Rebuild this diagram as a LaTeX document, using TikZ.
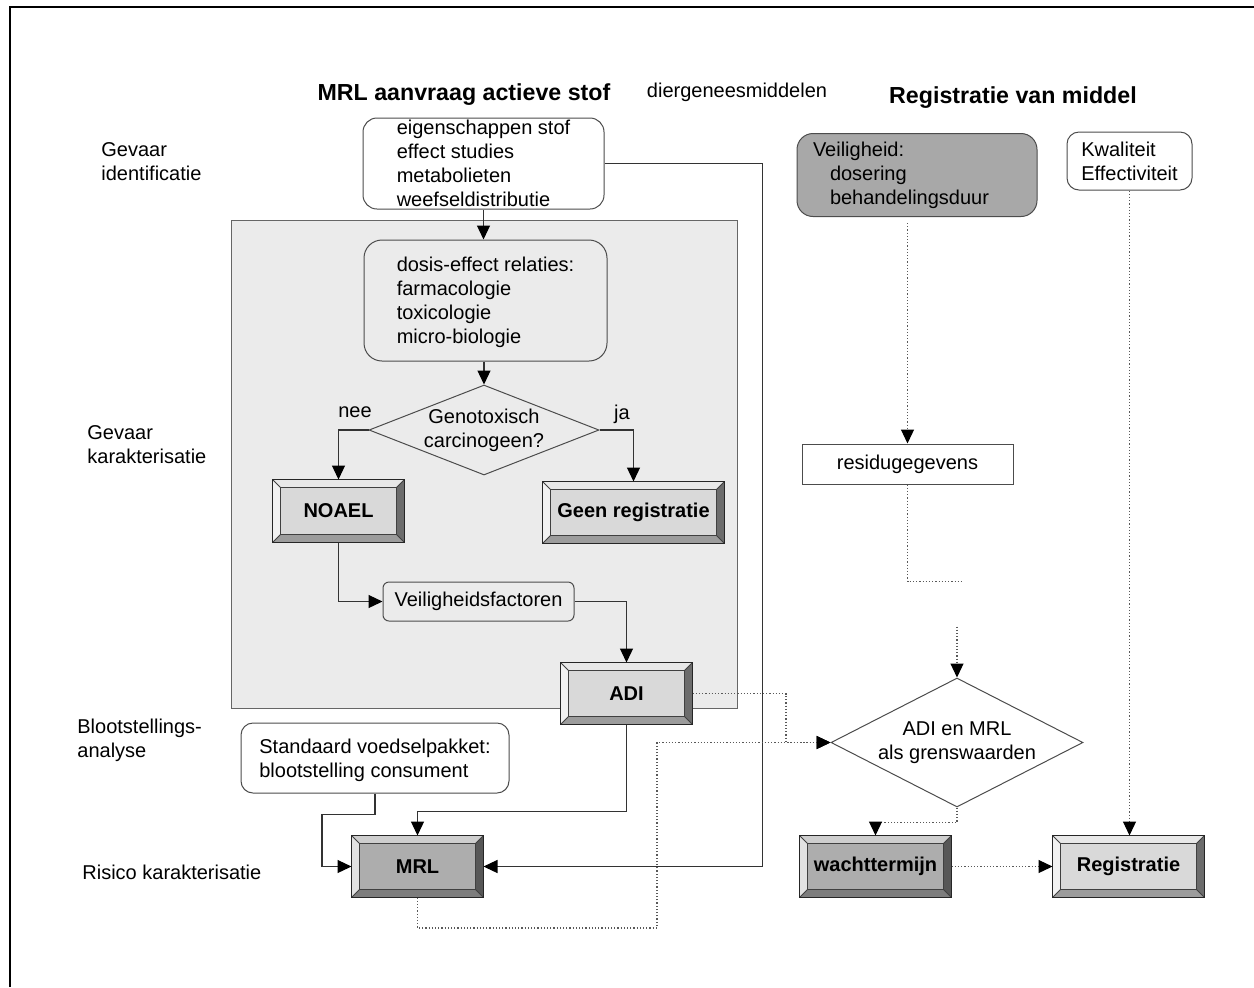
\documentclass[tikz,border=0pt]{standalone}
\usepackage{fontspec}
\setmainfont{Liberation Sans}
\usetikzlibrary{arrows.meta,shapes.geometric}
\colorlet{panelgray}{black!8}
\colorlet{faceL}{black!15}
\colorlet{faceD}{black!32}
\colorlet{faceV}{black!34}
\begin{document}
\begin{tikzpicture}[x=0.5pt, y=-0.5pt,
  every node/.style={font=\fontsize{10}{12}\selectfont, inner sep=0pt},
  >={Triangle[length=7pt,width=6.5pt,color=black]},
  conn/.style={draw=black!80, line width=0.6pt},
  dotconn/.style={draw=black!65, line width=0.6pt, densely dotted},
  rbox/.style={draw=black!70, line width=0.5pt, rounded corners=#1, align=left},
  bevel/.style={draw=black!85, line width=0.5pt, fill=#1, font=\fontsize{10}{12}\selectfont\bfseries},
  dia/.style={draw=black!70, line width=0.5pt, diamond, align=center},
  title/.style={font=\fontsize{11.6}{14}\selectfont\bfseries}]
  \useasboundingbox (0,0) rectangle (1254,987);
  \draw[line width=1pt] (10,987) -- (10,7) -- (1254,7);

  % grey panel behind the hazard part
  \draw[fill=panelgray, draw=black!60, line width=0.5pt] (231,220) rectangle (737,708);

  % titles and row labels
  \node[title] (tmrl) at (464,95) {MRL aanvraag actieve stof};
  \node (tdier) at (737,92) {diergeneesmiddelen};
  \node[title] (treg) at (1013,98) {Registratie van middel};
  \node[anchor=west, align=left] (lid) at (101,162) {Gevaar\\identificatie};
  \node[anchor=west, align=left] (lkar) at (87,445) {Gevaar\\karakterisatie};
  \node[anchor=west, align=left] (lbloot) at (77,740) {Blootstellings-\\analyse};
  \node[anchor=west] (lrisico) at (82,872) {Risico karakterisatie};

  % left column
  \node[rbox=7pt, text depth=0pt, fill=white, minimum width=120.5pt, minimum height=45.5pt] (eig) at (483.5,163.5)
    {eigenschappen stof\\effect studies\\metabolieten\\weefseldistributie};
  \node[rbox=9pt, text depth=0pt, fill=panelgray, minimum width=121.5pt, minimum height=60.5pt] (dosis) at (485.5,300.5)
    {dosis-effect relaties:\\farmacologie\\toxicologie\\micro-biologie};
  \node[dia, fill=panelgray, aspect=2.556, minimum width=115pt, minimum height=45pt] (gen) at (484,430)
    {Genotoxisch\\carcinogeen?};
  \node (nee) at (355,412) {nee};
  \node (ja) at (622,414) {ja};
  \node[bevel=faceL, minimum width=65.5pt, minimum height=31pt] (noael) at (338.5,511) {NOAEL};
  \node[bevel=faceL, minimum width=90.5pt, minimum height=30.5pt] (geen) at (633.5,512.5) {Geen registratie};
  \node[rbox=3pt, fill=panelgray, minimum width=95.5pt, minimum height=19.5pt] (veilf) at (478.5,601.5) {Veiligheidsfactoren};
  \node[bevel=faceL, minimum width=65.5pt, minimum height=30.5pt] (adi) at (626.5,693.5) {ADI};
  \node[rbox=6pt, text depth=0pt, fill=white, minimum width=134pt, minimum height=35pt] (stand) at (375,758)
    {Standaard voedselpakket:\\blootstelling consument};
  \node[bevel=faceD, minimum width=65.5pt, minimum height=30.5pt] (mrl) at (417.5,866.5) {MRL};

  % right column
  \node[rbox=8pt, fill=faceV, text width=104pt, inner xsep=8pt, minimum height=41.5pt] (veil) at (917,175)
    {Veiligheid:\\\hspace*{8.5pt}dosering\\\hspace*{8.5pt}behandelingsduur};
  \node[rbox=6pt, text depth=0pt, fill=white, minimum width=62.5pt, minimum height=29pt] (kwal) at (1129.5,161)
    {Kwaliteit\\Effectiviteit};
  \node[draw=black!70, line width=0.5pt, fill=white, minimum width=105.5pt, minimum height=20pt] (residu) at (907.5,464)
    {residugegevens};
  \node[dia, fill=white, aspect=1.953, minimum width=126pt, minimum height=64.5pt] (grens) at (957,742.5)
    {ADI en MRL\\als grenswaarden};
  \node[bevel=faceD, minimum width=75.5pt, minimum height=30.5pt] (wacht) at (875.5,866.5) {wachttermijn};
  \node[bevel=faceL, minimum width=75.5pt, minimum height=30.5pt] (reg) at (1128.5,866.5) {Registratie};

  % bevelled edges of the button boxes
  \foreach \b/\c in {noael/faceL, geen/faceL, adi/faceL, reg/faceL, mrl/faceD, wacht/faceD} {
    \fill[\c!35!white] (\b.north west) -- ([shift={(4pt,-4pt)}]\b.north west) -- ([shift={(4pt,4pt)}]\b.south west) -- (\b.south west) -- cycle;
    \fill[\c!60!white] (\b.north west) -- (\b.north east) -- ([shift={(-4pt,-4pt)}]\b.north east) -- ([shift={(4pt,-4pt)}]\b.north west) -- cycle;
    \fill[\c!50!black] (\b.north east) -- (\b.south east) -- ([shift={(-4pt,4pt)}]\b.south east) -- ([shift={(-4pt,-4pt)}]\b.north east) -- cycle;
    \fill[\c!72!black] (\b.south west) -- (\b.south east) -- ([shift={(-4pt,4pt)}]\b.south east) -- ([shift={(4pt,4pt)}]\b.south west) -- cycle;
    \draw[black!75, line width=0.4pt] ([shift={(4pt,-4pt)}]\b.north west) rectangle ([shift={(-4pt,4pt)}]\b.south east);
    \draw[black!75, line width=0.4pt] (\b.north west) -- ++(4pt,-4pt) (\b.north east) -- ++(-4pt,-4pt)
      (\b.south west) -- ++(4pt,4pt) (\b.south east) -- ++(-4pt,4pt);
    \draw[black!85, line width=0.5pt] (\b.north west) rectangle (\b.south east);
  }

  % solid connectors
  \draw[conn,->] (eig.south) -- (eig.south |- dosis.north);
  \draw[conn,->] (gen.north |- dosis.south) -- (gen.north);
  \draw[conn,->] (gen.west) -| (noael.north);
  \draw[conn,->] (gen.east) -| (geen.north);
  \draw[conn,->] (noael.south) |- (veilf.west);
  \draw[conn,->] (veilf.east) -| (adi.north);
  \draw[conn,->] (eig.east) -- ++(158,0) |- (mrl.east);
  \draw[conn,->] (stand.south) -- ++(0,21) -- ++(-53,0) |- (mrl.west);
  \draw[conn,->] (adi.south) -- ++(0,87) -| (mrl.north);

  % dotted connectors
  \draw[dotconn,->] ([yshift=-3pt]veil.south -| residu.north) -- (residu.north);
  \draw[dotconn] (residu.south) -- ++(0,97) -- ++(55,0);
  \draw[dotconn,->] ([yshift=25.5pt]grens.north) -- (grens.north);
  \draw[dotconn,->] (kwal.south) -- (kwal.south |- reg.north);
  \draw[dotconn,->] (grens.south) -- ++(0,15) -| (wacht.north);
  \draw[dotconn,->] (wacht.east) -- (reg.west);
  \draw[dotconn,->] (adi.east) -- ++(93.5,0) |- (grens.west);
  \draw[dotconn,->] (mrl.south) -- ++(0,30.5) -- ++(239.5,0) |- (grens.west);
\end{tikzpicture}
\end{document}
